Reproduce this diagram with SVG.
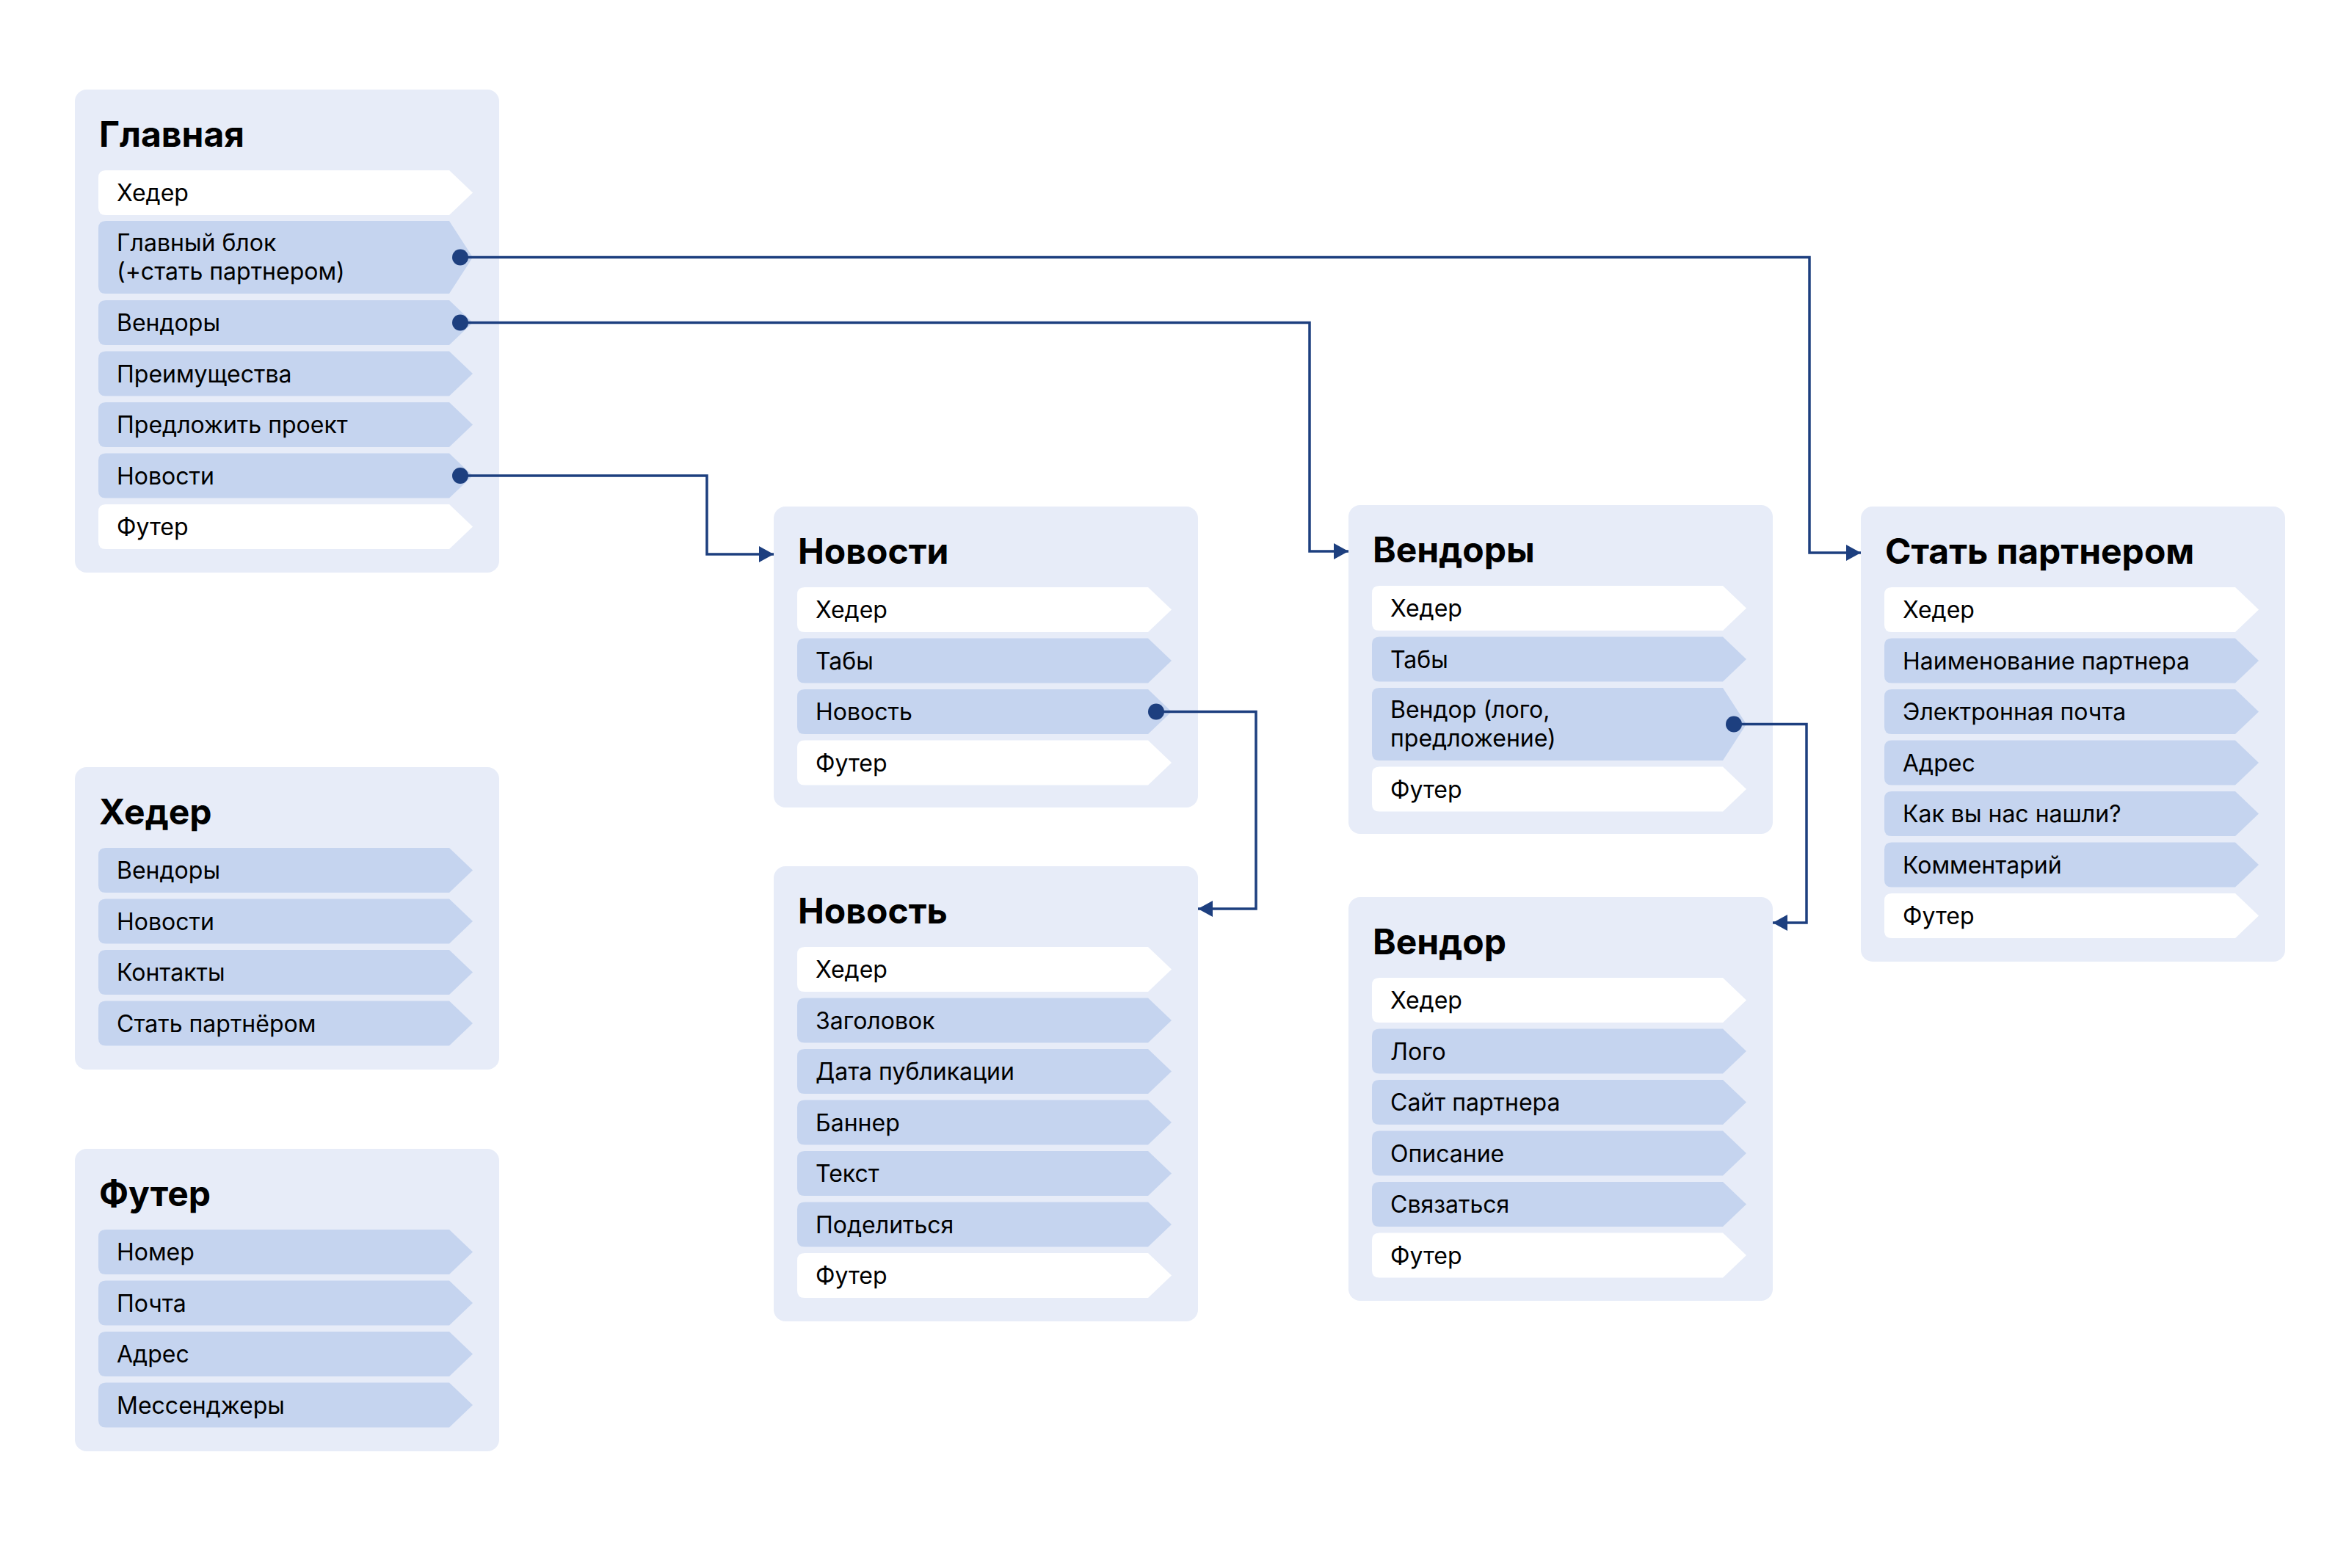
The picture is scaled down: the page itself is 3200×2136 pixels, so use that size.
<svg xmlns="http://www.w3.org/2000/svg" width="3200" height="2136" viewBox="0 0 3200 2136">
<style>
.bg{fill:#ffffff}
.panel{fill:#E7ECF8}
.rw{fill:#ffffff}
.rb{fill:#C5D4EF}
.title{font-family:Inter,"Liberation Sans",sans-serif;font-weight:700;font-size:48px;fill:#000}
.item{font-family:Inter,"Liberation Sans",sans-serif;font-size:32px;fill:#000}
.conn{fill:none;stroke:#1D3F7F;stroke-width:3.5}
.dot{fill:#1D3F7F}
</style>
<defs>
<marker id="arrow" viewBox="0 0 20 22" refX="20" refY="11" markerWidth="20" markerHeight="22" markerUnits="userSpaceOnUse" orient="auto">
<path d="M0,0 L20,11 L0,22 Z" fill="#1D3F7F"/>
</marker>
</defs>
<rect class="bg" x="0" y="0" width="3200" height="2136"/>

<g id="node-glavnaya">
<rect class="panel" x="102" y="122" width="578" height="658" rx="16"/>
<text class="title" x="135" y="200">Главная</text>
<path class="rw" d="M144,232 H612 L644,262.5 L612,293 H144 Q134,293 134,283 V242 Q134,232 144,232 Z"/>
<text class="item" x="159" y="274">Хедер</text>
<path class="rb" d="M144,301 H612 L644,350.5 L612,400 H144 Q134,400 134,390 V311 Q134,301 144,301 Z"/>
<text class="item" x="159" y="342">Главный блок</text>
<text class="item" x="159" y="381">(+стать партнером)</text>
<path class="rb" d="M144,409 H612 L644,439.5 L612,470 H144 Q134,470 134,460 V419 Q134,409 144,409 Z"/>
<text class="item" x="159" y="451">Вендоры</text>
<path class="rb" d="M144,478.5 H612 L644,509 L612,539.5 H144 Q134,539.5 134,529.5 V488.5 Q134,478.5 144,478.5 Z"/>
<text class="item" x="159" y="520.5">Преимущества</text>
<path class="rb" d="M144,548 H612 L644,578.5 L612,609 H144 Q134,609 134,599 V558 Q134,548 144,548 Z"/>
<text class="item" x="159" y="590">Предложить проект</text>
<path class="rb" d="M144,617.5 H612 L644,648 L612,678.5 H144 Q134,678.5 134,668.5 V627.5 Q134,617.5 144,617.5 Z"/>
<text class="item" x="159" y="659.5">Новости</text>
<path class="rw" d="M144,687 H612 L644,717.5 L612,748 H144 Q134,748 134,738 V697 Q134,687 144,687 Z"/>
<text class="item" x="159" y="729">Футер</text>
</g>

<g id="node-header">
<rect class="panel" x="102" y="1045" width="578" height="412" rx="16"/>
<text class="title" x="135" y="1123">Хедер</text>
<path class="rb" d="M144,1155 H612 L644,1185.5 L612,1216 H144 Q134,1216 134,1206 V1165 Q134,1155 144,1155 Z"/>
<text class="item" x="159" y="1197">Вендоры</text>
<path class="rb" d="M144,1224.5 H612 L644,1255 L612,1285.5 H144 Q134,1285.5 134,1275.5 V1234.5 Q134,1224.5 144,1224.5 Z"/>
<text class="item" x="159" y="1266.5">Новости</text>
<path class="rb" d="M144,1294 H612 L644,1324.5 L612,1355 H144 Q134,1355 134,1345 V1304 Q134,1294 144,1294 Z"/>
<text class="item" x="159" y="1336">Контакты</text>
<path class="rb" d="M144,1363.5 H612 L644,1394 L612,1424.5 H144 Q134,1424.5 134,1414.5 V1373.5 Q134,1363.5 144,1363.5 Z"/>
<text class="item" x="159" y="1405.5">Стать партнёром</text>
</g>

<g id="node-footer">
<rect class="panel" x="102" y="1565" width="578" height="412" rx="16"/>
<text class="title" x="135" y="1643">Футер</text>
<path class="rb" d="M144,1675 H612 L644,1705.5 L612,1736 H144 Q134,1736 134,1726 V1685 Q134,1675 144,1675 Z"/>
<text class="item" x="159" y="1717">Номер</text>
<path class="rb" d="M144,1744.5 H612 L644,1775 L612,1805.5 H144 Q134,1805.5 134,1795.5 V1754.5 Q134,1744.5 144,1744.5 Z"/>
<text class="item" x="159" y="1786.5">Почта</text>
<path class="rb" d="M144,1814 H612 L644,1844.5 L612,1875 H144 Q134,1875 134,1865 V1824 Q134,1814 144,1814 Z"/>
<text class="item" x="159" y="1856">Адрес</text>
<path class="rb" d="M144,1883.5 H612 L644,1914 L612,1944.5 H144 Q134,1944.5 134,1934.5 V1893.5 Q134,1883.5 144,1883.5 Z"/>
<text class="item" x="159" y="1925.5">Мессенджеры</text>
</g>

<g id="node-novosti">
<rect class="panel" x="1054" y="690" width="578" height="410" rx="16"/>
<text class="title" x="1087" y="768">Новости</text>
<path class="rw" d="M1096,800 H1564 L1596,830.5 L1564,861 H1096 Q1086,861 1086,851 V810 Q1086,800 1096,800 Z"/>
<text class="item" x="1111" y="842">Хедер</text>
<path class="rb" d="M1096,869.5 H1564 L1596,900 L1564,930.5 H1096 Q1086,930.5 1086,920.5 V879.5 Q1086,869.5 1096,869.5 Z"/>
<text class="item" x="1111" y="911.5">Табы</text>
<path class="rb" d="M1096,939 H1564 L1596,969.5 L1564,1000 H1096 Q1086,1000 1086,990 V949 Q1086,939 1096,939 Z"/>
<text class="item" x="1111" y="981">Новость</text>
<path class="rw" d="M1096,1008.5 H1564 L1596,1039 L1564,1069.5 H1096 Q1086,1069.5 1086,1059.5 V1018.5 Q1086,1008.5 1096,1008.5 Z"/>
<text class="item" x="1111" y="1050.5">Футер</text>
</g>

<g id="node-novost">
<rect class="panel" x="1054" y="1180" width="578" height="620" rx="16"/>
<text class="title" x="1087" y="1258">Новость</text>
<path class="rw" d="M1096,1290 H1564 L1596,1320.5 L1564,1351 H1096 Q1086,1351 1086,1341 V1300 Q1086,1290 1096,1290 Z"/>
<text class="item" x="1111" y="1332">Хедер</text>
<path class="rb" d="M1096,1359.5 H1564 L1596,1390 L1564,1420.5 H1096 Q1086,1420.5 1086,1410.5 V1369.5 Q1086,1359.5 1096,1359.5 Z"/>
<text class="item" x="1111" y="1401.5">Заголовок</text>
<path class="rb" d="M1096,1429 H1564 L1596,1459.5 L1564,1490 H1096 Q1086,1490 1086,1480 V1439 Q1086,1429 1096,1429 Z"/>
<text class="item" x="1111" y="1471">Дата публикации</text>
<path class="rb" d="M1096,1498.5 H1564 L1596,1529 L1564,1559.5 H1096 Q1086,1559.5 1086,1549.5 V1508.5 Q1086,1498.5 1096,1498.5 Z"/>
<text class="item" x="1111" y="1540.5">Баннер</text>
<path class="rb" d="M1096,1568 H1564 L1596,1598.5 L1564,1629 H1096 Q1086,1629 1086,1619 V1578 Q1086,1568 1096,1568 Z"/>
<text class="item" x="1111" y="1610">Текст</text>
<path class="rb" d="M1096,1637.5 H1564 L1596,1668 L1564,1698.5 H1096 Q1086,1698.5 1086,1688.5 V1647.5 Q1086,1637.5 1096,1637.5 Z"/>
<text class="item" x="1111" y="1679.5">Поделиться</text>
<path class="rw" d="M1096,1707 H1564 L1596,1737.5 L1564,1768 H1096 Q1086,1768 1086,1758 V1717 Q1086,1707 1096,1707 Z"/>
<text class="item" x="1111" y="1749">Футер</text>
</g>

<g id="node-vendory">
<rect class="panel" x="1837" y="688" width="578" height="448" rx="16"/>
<text class="title" x="1870" y="766">Вендоры</text>
<path class="rw" d="M1879,798 H2347 L2379,828.5 L2347,859 H1879 Q1869,859 1869,849 V808 Q1869,798 1879,798 Z"/>
<text class="item" x="1894" y="840">Хедер</text>
<path class="rb" d="M1879,867.5 H2347 L2379,898 L2347,928.5 H1879 Q1869,928.5 1869,918.5 V877.5 Q1869,867.5 1879,867.5 Z"/>
<text class="item" x="1894" y="909.5">Табы</text>
<path class="rb" d="M1879,937 H2347 L2379,986.5 L2347,1036 H1879 Q1869,1036 1869,1026 V947 Q1869,937 1879,937 Z"/>
<text class="item" x="1894" y="978">Вендор (лого,</text>
<text class="item" x="1894" y="1017">предложение)</text>
<path class="rw" d="M1879,1044.5 H2347 L2379,1075 L2347,1105.5 H1879 Q1869,1105.5 1869,1095.5 V1054.5 Q1869,1044.5 1879,1044.5 Z"/>
<text class="item" x="1894" y="1086.5">Футер</text>
</g>

<g id="node-vendor">
<rect class="panel" x="1837" y="1222" width="578" height="550" rx="16"/>
<text class="title" x="1870" y="1300">Вендор</text>
<path class="rw" d="M1879,1332 H2347 L2379,1362.5 L2347,1393 H1879 Q1869,1393 1869,1383 V1342 Q1869,1332 1879,1332 Z"/>
<text class="item" x="1894" y="1374">Хедер</text>
<path class="rb" d="M1879,1401.5 H2347 L2379,1432 L2347,1462.5 H1879 Q1869,1462.5 1869,1452.5 V1411.5 Q1869,1401.5 1879,1401.5 Z"/>
<text class="item" x="1894" y="1443.5">Лого</text>
<path class="rb" d="M1879,1471 H2347 L2379,1501.5 L2347,1532 H1879 Q1869,1532 1869,1522 V1481 Q1869,1471 1879,1471 Z"/>
<text class="item" x="1894" y="1513">Сайт партнера</text>
<path class="rb" d="M1879,1540.5 H2347 L2379,1571 L2347,1601.5 H1879 Q1869,1601.5 1869,1591.5 V1550.5 Q1869,1540.5 1879,1540.5 Z"/>
<text class="item" x="1894" y="1582.5">Описание</text>
<path class="rb" d="M1879,1610 H2347 L2379,1640.5 L2347,1671 H1879 Q1869,1671 1869,1661 V1620 Q1869,1610 1879,1610 Z"/>
<text class="item" x="1894" y="1652">Связаться</text>
<path class="rw" d="M1879,1679.5 H2347 L2379,1710 L2347,1740.5 H1879 Q1869,1740.5 1869,1730.5 V1689.5 Q1869,1679.5 1879,1679.5 Z"/>
<text class="item" x="1894" y="1721.5">Футер</text>
</g>

<g id="node-partner">
<rect class="panel" x="2535" y="690" width="578" height="620" rx="16"/>
<text class="title" x="2568" y="768">Стать партнером</text>
<path class="rw" d="M2577,800 H3045 L3077,830.5 L3045,861 H2577 Q2567,861 2567,851 V810 Q2567,800 2577,800 Z"/>
<text class="item" x="2592" y="842">Хедер</text>
<path class="rb" d="M2577,869.5 H3045 L3077,900 L3045,930.5 H2577 Q2567,930.5 2567,920.5 V879.5 Q2567,869.5 2577,869.5 Z"/>
<text class="item" x="2592" y="911.5">Наименование партнера</text>
<path class="rb" d="M2577,939 H3045 L3077,969.5 L3045,1000 H2577 Q2567,1000 2567,990 V949 Q2567,939 2577,939 Z"/>
<text class="item" x="2592" y="981">Электронная почта</text>
<path class="rb" d="M2577,1008.5 H3045 L3077,1039 L3045,1069.5 H2577 Q2567,1069.5 2567,1059.5 V1018.5 Q2567,1008.5 2577,1008.5 Z"/>
<text class="item" x="2592" y="1050.5">Адрес</text>
<path class="rb" d="M2577,1078 H3045 L3077,1108.5 L3045,1139 H2577 Q2567,1139 2567,1129 V1088 Q2567,1078 2577,1078 Z"/>
<text class="item" x="2592" y="1120">Как вы нас нашли?</text>
<path class="rb" d="M2577,1147.5 H3045 L3077,1178 L3045,1208.5 H2577 Q2567,1208.5 2567,1198.5 V1157.5 Q2567,1147.5 2577,1147.5 Z"/>
<text class="item" x="2592" y="1189.5">Комментарий</text>
<path class="rw" d="M2577,1217 H3045 L3077,1247.5 L3045,1278 H2577 Q2567,1278 2567,1268 V1227 Q2567,1217 2577,1217 Z"/>
<text class="item" x="2592" y="1259">Футер</text>
</g>

<g id="connectors">
<path class="conn" d="M627,350.5 H2465 V753 H2535" marker-end="url(#arrow)"/>
<path class="conn" d="M627,439.5 H1784 V751 H1837" marker-end="url(#arrow)"/>
<path class="conn" d="M627,648 H963 V755 H1054" marker-end="url(#arrow)"/>
<path class="conn" d="M1575,969.5 H1711 V1238 H1632" marker-end="url(#arrow)"/>
<path class="conn" d="M2362,986.5 H2461 V1257 H2415" marker-end="url(#arrow)"/>
<circle class="dot" cx="627" cy="350.5" r="11"/>
<circle class="dot" cx="627" cy="439.5" r="11"/>
<circle class="dot" cx="627" cy="648" r="11"/>
<circle class="dot" cx="1575" cy="969.5" r="11"/>
<circle class="dot" cx="2362" cy="986.5" r="11"/>
</g>
</svg>
